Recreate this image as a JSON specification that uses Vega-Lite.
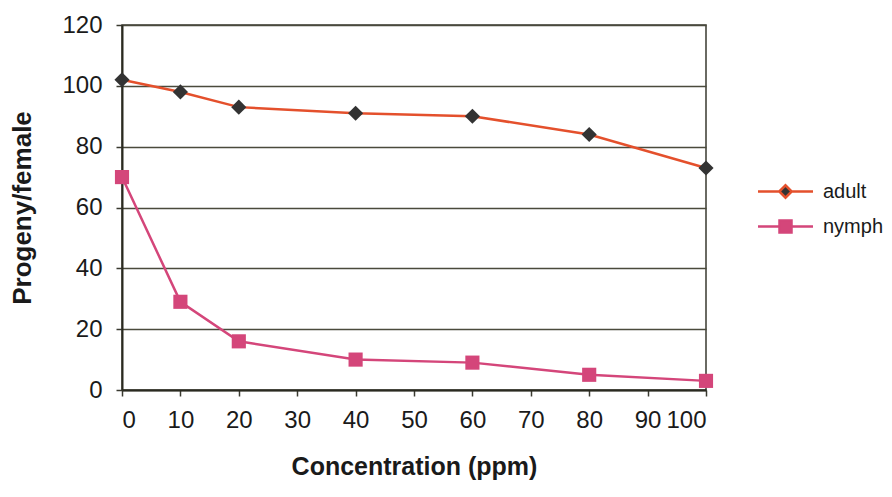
{
  "$schema": "https://vega.github.io/schema/vega-lite/v6.json",
  "autosize": "none",
  "width": 584,
  "height": 365,
  "padding": {"left": 122, "top": 25, "right": 186, "bottom": 107},
  "background": "white",
  "config": {
    "font": "Liberation Sans",
    "view": {"stroke": "#3a3a30", "strokeWidth": 1.5},
    "axis": {"labelFont": "Liberation Sans", "titleFont": "Liberation Sans"}
  },
  "data": {
    "values": [
      {"conc": 0, "series": "adult", "value": 102},
      {"conc": 10, "series": "adult", "value": 98},
      {"conc": 20, "series": "adult", "value": 93},
      {"conc": 40, "series": "adult", "value": 91},
      {"conc": 60, "series": "adult", "value": 90},
      {"conc": 80, "series": "adult", "value": 84},
      {"conc": 100, "series": "adult", "value": 73},
      {"conc": 0, "series": "nymph", "value": 70},
      {"conc": 10, "series": "nymph", "value": 29},
      {"conc": 20, "series": "nymph", "value": 16},
      {"conc": 40, "series": "nymph", "value": 10},
      {"conc": 60, "series": "nymph", "value": 9},
      {"conc": 80, "series": "nymph", "value": 5},
      {"conc": 100, "series": "nymph", "value": 3}
    ]
  },
  "encoding": {
    "x": {
      "field": "conc", "type": "quantitative",
      "scale": {"domain": [0, 100], "nice": false},
      "axis": {
        "title": "Concentration (ppm)", "values": [0,10,20,30,40,50,60,70,80,90,100],
        "grid": false, "tickSize": 6, "tickColor": "#3a3a30", "tickWidth": 1.5,
        "domainColor": "#2a2a20", "domainWidth": 2,
        "labelFontSize": 24, "labelColor": "#1a1a1a", "labelPadding": 12,
        "titleFontSize": 25, "titleFontWeight": "bold", "titleColor": "#1a1a1a", "titlePadding": 22
      }
    },
    "y": {
      "field": "value", "type": "quantitative",
      "scale": {"domain": [0, 120], "nice": false},
      "axis": {
        "title": "Progeny/female", "values": [0,20,40,60,80,100,120],
        "grid": true, "gridColor": "#4a4a3c", "gridWidth": 1.5,
        "tickSize": 6, "tickColor": "#3a3a30", "tickWidth": 1.5,
        "domainColor": "#2a2a20", "domainWidth": 2,
        "labelFontSize": 24, "labelColor": "#1a1a1a", "labelPadding": 14,
        "titleFontSize": 26, "titleFontWeight": "bold", "titleColor": "#1a1a1a", "titlePadding": 26
      }
    }
  },
  "layer": [
    {
      "mark": {"type": "line", "strokeWidth": 2.5},
      "encoding": {
        "color": {
          "field": "series", "type": "nominal",
          "scale": {"domain": ["adult", "nymph"], "range": ["#e4502c", "#d4467a"]},
          "legend": {
            "title": null, "orient": "none", "legendX": 652, "legendY": 155,
            "symbolType": "M-2.75,0H-0.6M0.6,0H2.75M-0.6,0L0,-0.6L0.6,0L0,0.6Z",
            "symbolSize": 400, "symbolStrokeWidth": 2.5,
            "labelFontSize": 20, "labelColor": "#1a1a1a", "labelOffset": 26,
            "rowPadding": 12,
            "encode": {
              "symbols": {"update": {
                "shape": {"signal": "datum.value === 'adult' ? 'M-2.75,0H-0.62M0.62,0H2.75M-0.62,0L0,-0.62L0.62,0L0,0.62Z' : 'M-2.75,0H-0.6M0.6,0H2.75M-0.6,-0.6H0.6V0.6H-0.6Z'"},
                "stroke": {"signal": "datum.value === 'adult' ? '#e4502c' : '#d4467a'"},
                "fill": {"signal": "datum.value === 'adult' ? '#333333' : '#d4467a'"},
                "fillOpacity": {"value": 1},
                "strokeWidth": {"value": 2.5}
              }}
            }
          }
        }
      }
    },
    {
      "mark": {"type": "point", "filled": true, "opacity": 1},
      "encoding": {
        "shape": {"condition": {"test": "datum.series === 'adult'", "value": "diamond"}, "value": "square"},
        "fill": {"condition": {"test": "datum.series === 'adult'", "value": "#333333"}, "value": "#d4467a"},
        "size": {"condition": {"test": "datum.series === 'adult'", "value": 230}, "value": 200}
      }
    }
  ]
}
